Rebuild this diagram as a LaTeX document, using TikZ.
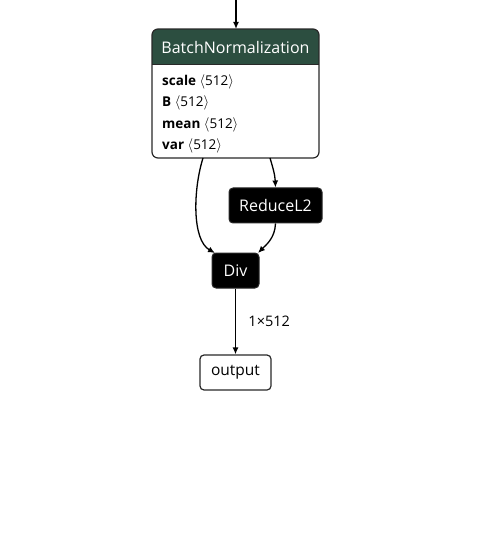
\documentclass[tikz,border=0pt]{standalone}
\usepackage{fontspec}
\setmainfont{Open Sans}
\usetikzlibrary{arrows.meta}
\definecolor{hdgreen}{RGB}{44,78,64}
\definecolor{bordergray}{RGB}{40,40,40}
\newcommand{\lab}[1]{ $\langle$#1$\rangle$}
\tikzset{
  blk/.style={fill=black, draw=bordergray, line width=1pt, rounded corners=4pt, text=white, font=\fontsize{16}{18}\selectfont, inner sep=0pt},
  outbox/.style={fill=white, draw=bordergray, line width=1.2pt, rounded corners=4pt, text=black, font=\fontsize{15.5}{18}\selectfont, inner sep=0pt},
  edge/.style={draw=black, line width=1.3pt, -{Latex[length=7pt,width=6pt]}},
  attr/.style={anchor=west, font=\fontsize{13.5}{15}\selectfont, inner sep=0pt},
}
\begin{document}
\begin{tikzpicture}[x=1pt,y=-1pt]
\useasboundingbox (0,0) rectangle (498,534);
% BatchNormalization box
\begin{scope}
\clip[rounded corners=6pt] (152,29) rectangle (319,158);
\fill[white] (152,29) rectangle (319,158);
\fill[hdgreen] (152,29) rectangle (319,64);
\end{scope}
\node[draw=bordergray, line width=1.2pt, rounded corners=6pt, minimum width=167pt, minimum height=129pt, inner sep=0pt] (bn) at (235.5,93.5) {};
\draw[bordergray, line width=0.8pt] (152,64) -- (319,64);
\node[text=white, font=\fontsize{16}{18}\selectfont, inner sep=0pt] (bntitle) at (235.5,48) {BatchNormalization};
\node[attr] (a1) at (162,82) {\textbf{scale}\lab{512}};
\node[attr] (a2) at (162,103) {\textbf{B}\lab{512}};
\node[attr] (a3) at (162,125) {\textbf{mean}\lab{512}};
\node[attr] (a4) at (162,146) {\textbf{var}\lab{512}};
\coordinate (top) at (236,0);
% Other nodes
\node[blk, minimum width=93pt, minimum height=35pt] (red) at (275.5,205.5) {ReduceL2};
\node[blk, minimum width=47pt, minimum height=35pt] (div) at (235.5,270.5) {Div};
\node[outbox, minimum width=71pt, minimum height=35pt] (out) at (235.5,372.5) {output};
% Edges
\draw[edge] (top) -- (236,29);
\draw[edge] (270,158) .. controls (273,168) and (275,175) .. (red.north);
\draw[edge] (203,158) .. controls (193,190) and (192,240) .. (215,253);
\draw[edge] (red.south) .. controls (275,238) and (266,245) .. (258,253);
\draw[edge] (div.south) -- (out.north) node[midway, right=9pt, font=\fontsize{14.5}{16}\selectfont, text=black] {1×512};
\end{tikzpicture}
\end{document}
